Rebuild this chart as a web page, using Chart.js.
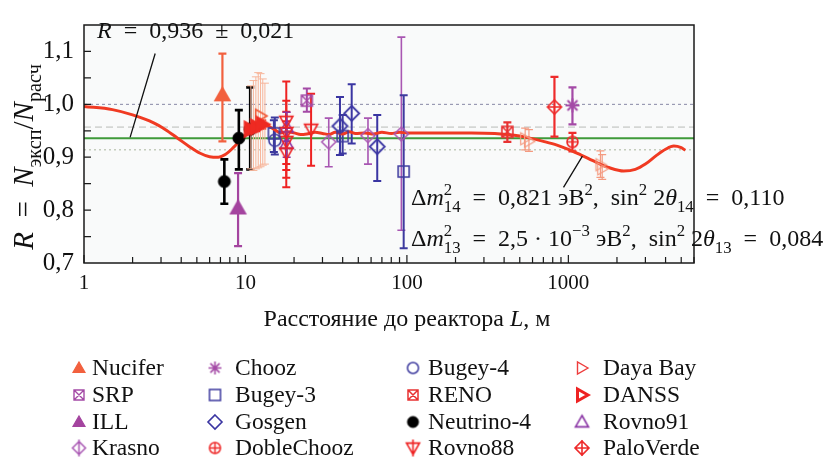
<!DOCTYPE html>
<html>
<head>
<meta charset="utf-8">
<script src="https://cdn.jsdelivr.net/npm/chart.js@4.4.0/dist/chart.umd.min.js"></script>
<style>
html, body { margin: 0; padding: 0; background: #fff; }
</style>
</head>
<body>
<canvas id="graph" width="828" height="457"></canvas>
<script>
// точки: [L, R, нижняя граница, верхняя граница]
const nucifer    = [[7.2, 1.018, 0.930, 1.096]];
const srp        = [[24.0, 1.007, 0.986, 1.030]];
const ill        = [[9.0, 0.804, 0.732, 0.870]];
const krasno     = [[32.8, 0.929, 0.882, 0.974], [57.4, 0.941, 0.887, 0.974], [92.4, 0.944, 0.762, 1.127]];
const chooz      = [[1060, 0.998, 0.962, 1.032]];
const bugey3     = [[15.0, 0.945, 0.910, 0.970], [40.0, 0.940, 0.907, 0.980], [95.5, 0.873, 0.728, 1.017]];
const gosgen     = [[38.5, 0.959, 0.904, 1.014], [45.5, 0.983, 0.926, 1.038], [65.5, 0.920, 0.855, 0.980]];
const dobleChooz = [[1060, 0.929, 0.911, 0.946]];
const bugey4     = [[15.2, 0.932, 0.905, 0.975]];
const reno       = [[419, 0.948, 0.929, 0.966]];
const neutrino4  = [[7.4, 0.854, 0.812, 0.896], [9.1, 0.936, 0.877, 0.989], [10.7, 0.953, 0.877, 1.032]];
const rovno88    = [[17.9, 0.968, 0.887, 1.043], [17.9, 0.947, 0.861, 1.007], [17.9, 0.930, 0.876, 0.986],
                    [17.9, 0.908, 0.843, 0.968], [25.5, 0.953, 0.884, 1.020]];
const dayaBay    = [[540, 0.935, 0.914, 0.955], [570, 0.930, 0.911, 0.952], [1580, 0.886, 0.862, 0.912], [1620, 0.878, 0.858, 0.905]];
const danss      = [[10.7, 0.953, 0.945, 0.961], [11.7, 0.957, 0.949, 0.965], [12.7, 0.962, 0.954, 0.970]];
const rovno91    = [[18.0, 0.957, 0.930, 0.985], [18.0, 0.926, 0.900, 0.955]];
const paloVerde  = [[820, 0.995, 0.939, 1.052]];
// без подписи в легенде
const lightBars  = [[10.8, 0.955, 0.878, 1.035], [11.2, 0.955, 0.875, 1.045], [11.6, 0.960, 0.878, 1.052],
                    [12.0, 0.960, 0.880, 1.060], [12.4, 0.960, 0.882, 1.058], [12.8, 0.960, 0.885, 1.048],
                    [13.2, 0.960, 0.887, 1.040]];
const openTri    = [[12.4, 0.978]];

// кривая осцилляций
const curveL = [1, 1.5, 2, 2.7, 3.2, 3.8, 4.5, 5.2, 6.0, 6.8, 7.5, 8.4, 9.5, 10.5, 11.5, 12.5, 13.5, 15, 16.5, 18,
                20, 22, 24, 27, 30, 33, 36, 40, 44, 48, 55, 62, 70, 80, 90, 100, 150, 250, 350, 450, 560, 700,
                850, 1000, 1200, 1500, 1800, 2200, 2600, 3000, 3500, 4000, 4500, 5000, 5300];
const curveR = [0.996, 0.990, 0.980, 0.965, 0.952, 0.936, 0.920, 0.908, 0.901, 0.900, 0.905, 0.918, 0.935, 0.948,
                0.957, 0.961, 0.960, 0.953, 0.946, 0.948, 0.946, 0.943, 0.944, 0.947, 0.945, 0.943, 0.947, 0.944,
                0.948, 0.945, 0.946, 0.944, 0.947, 0.945, 0.947, 0.946, 0.946, 0.946, 0.945, 0.942, 0.937, 0.930,
                0.923, 0.915, 0.904, 0.890, 0.880, 0.874, 0.877, 0.887, 0.903, 0.915, 0.921, 0.918, 0.913];

const refValues = [1.0, 0.957, 0.936, 0.914];
const xTickValues = [1, 10, 100, 1000];
const xTickLabels = ['1', '10', '100', '1000'];
const yTickValues = [0.7, 0.8, 0.9, 1.0, 1.1];
const yTickLabels = ['0,7', '0,8', '0,9', '1,0', '1,1'];

const SERIF = '"Liberation Serif", "DejaVu Serif", serif';
const fnt = (style, size) => `${style} ${size}px ${SERIF}`;
const SP = '\u2002';

function makeMarker(kind, color, size, lw, bar) {
    const pad = 4;
    const c = document.createElement('canvas');
    c.width = c.height = Math.ceil(size + pad * 2 + (bar ? 8 : 0));
    const g = c.getContext('2d');
    const m = c.width / 2, r = size / 2;
    g.strokeStyle = color;
    g.fillStyle = color;
    g.lineWidth = lw;
    let fill = false;
    g.beginPath();
    if (kind === 'triUpFill' || kind === 'triUp') {
        g.moveTo(m, m - r); g.lineTo(m + r, m + r * 0.75); g.lineTo(m - r, m + r * 0.75); g.closePath();
        fill = kind === 'triUpFill';
    } else if (kind === 'triDown') {
        g.moveTo(m, m + r); g.lineTo(m + r, m - r * 0.75); g.lineTo(m - r, m - r * 0.75); g.closePath();
    } else if (kind === 'triRight' || kind === 'triRightBold' || kind === 'triRightFill') {
        g.moveTo(m + r, m); g.lineTo(m - r * 0.75, m - r); g.lineTo(m - r * 0.75, m + r); g.closePath();
        fill = kind === 'triRightFill';
    } else if (kind === 'circle' || kind === 'circleFill' || kind === 'circlePlus') {
        g.arc(m, m, r, 0, Math.PI * 2);
        fill = kind === 'circleFill';
        if (kind === 'circlePlus') {
            g.moveTo(m - r, m); g.lineTo(m + r, m); g.moveTo(m, m - r); g.lineTo(m, m + r);
        }
    } else if (kind === 'square' || kind === 'squareX') {
        g.rect(m - r, m - r, size, size);
        if (kind === 'squareX') {
            g.moveTo(m - r, m - r); g.lineTo(m + r, m + r); g.moveTo(m + r, m - r); g.lineTo(m - r, m + r);
        }
    } else if (kind === 'diamond' || kind === 'diamondPlus') {
        g.moveTo(m, m - r); g.lineTo(m + r, m); g.lineTo(m, m + r); g.lineTo(m - r, m); g.closePath();
        if (kind === 'diamondPlus') {
            g.moveTo(m - r, m); g.lineTo(m + r, m);
        }
    } else if (kind === 'asterisk') {
        for (let k = 0; k < 4; k++) {
            const a = k * Math.PI / 4;
            g.moveTo(m - r * Math.cos(a), m - r * Math.sin(a));
            g.lineTo(m + r * Math.cos(a), m + r * Math.sin(a));
        }
    }
    if (bar) {
        g.moveTo(m, m - r - bar); g.lineTo(m, m + r + bar);
    }
    if (fill) g.fill();
    g.stroke();
    return c;
}

// название, данные, маркер, цвет, размер, толщина, толщина планок, порядок
const series = [
    ['Nucifer', nucifer, 'triUpFill', '#f2603e', 15, 1.5, 2.2],
    ['SRP', srp, 'squareX', '#a44aa6', 11, 1.5, 2],
    ['ILL', ill, 'triUpFill', '#a4449f', 15, 1.5, 2.2],
    ['Krasno', krasno, 'diamond', '#a856b2', 14, 1.5, 1.6],
    ['Chooz', chooz, 'asterisk', '#a44aa6', 14, 2, 2.2],
    ['Bugey-3', bugey3, 'square', '#3d3a9e', 11, 1.6, 2],
    ['Gosgen', gosgen, 'diamond', '#3a35a2', 15, 1.8, 2],
    ['DobleChooz', dobleChooz, 'circlePlus', '#ee2b2b', 11, 1.6, 2.2],
    ['Bugey-4', bugey4, 'circle', '#3d3a9e', 12, 1.6, 2],
    ['RENO', reno, 'squareX', '#e83232', 11, 1.6, 2.2],
    ['Neutrino-4', neutrino4, 'circleFill', '#000000', 12, 1, 2.6],
    ['Rovno88', rovno88, 'triDown', '#ee2222', 13, 1.6, 2],
    ['Daya Bay', dayaBay, 'triRight', '#f49a80', 12, 1.2, 1.2],
    ['DANSS', danss, 'triRightFill', '#ee2a22', 14, 2.5, 2, -1],
    ['Rovno91', rovno91, 'triUp', '#8a35a5', 13, 1.6, 1.6],
    ['PaloVerde', paloVerde, 'diamondPlus', '#ee2b2b', 14, 1.6, 2.2]
];

const legendMarkers = {
    'Nucifer': makeMarker('triUpFill', '#f2603e', 12, 1.2),
    'SRP': makeMarker('squareX', '#a44aa6', 10, 1.4),
    'ILL': makeMarker('triUpFill', '#a4449f', 12, 1.2),
    'Krasno': makeMarker('diamond', '#a856b2', 13, 1.5, 2),
    'Chooz': makeMarker('asterisk', '#a44aa6', 13, 1.6),
    'Bugey-3': makeMarker('square', '#3d3a9e', 11, 1.5),
    'Gosgen': makeMarker('diamond', '#3a35a2', 14, 1.6),
    'DobleChooz': makeMarker('circlePlus', '#ee2b2b', 11, 1.5),
    'Bugey-4': makeMarker('circle', '#3d3a9e', 11, 1.5),
    'RENO': makeMarker('squareX', '#e83232', 10, 1.5),
    'Neutrino-4': makeMarker('circleFill', '#000000', 11, 1),
    'Rovno88': makeMarker('triDown', '#ee2222', 13, 1.6, 2),
    'Daya Bay': makeMarker('triRight', '#ee3c3c', 12, 1.4),
    'DANSS': makeMarker('triRightBold', '#ee2222', 12, 3),
    'Rovno91': makeMarker('triUp', '#8a35a5', 13, 1.6),
    'PaloVerde': makeMarker('diamondPlus', '#ee2b2b', 14, 1.6, 1)
};
const legendOrder = ['Nucifer', 'SRP', 'ILL', 'Krasno', 'Chooz', 'Bugey-3', 'Gosgen', 'DobleChooz',
                     'Bugey-4', 'RENO', 'Neutrino-4', 'Rovno88', 'Daya Bay', 'DANSS', 'Rovno91', 'PaloVerde'];

function toPoints(arr) {
    return arr.map(p => ({ x: p[0], y: p[1] }));
}

const datasets = series.map(s => ({
    label: s[0],
    data: toPoints(s[1]),
    errs: s[1].map(p => [p[2], p[3]]),
    pointStyle: makeMarker(s[2], s[3], s[4], s[5]),
    pointRadius: 5,
    borderColor: s[3],
    backgroundColor: s[3],
    barWidth: s[6],
    order: s[7] || 0,
    showLine: false
}));
datasets.push({
    label: 'extra', data: toPoints(lightBars), errs: lightBars.map(p => [p[2], p[3]]),
    pointRadius: 0, borderColor: '#f7b59a', barWidth: 1, showLine: false
});
datasets.push({
    label: 'extra2', data: toPoints(openTri),
    pointStyle: makeMarker('triRight', '#f05a38', 13, 1.6), pointRadius: 5, showLine: false
});
datasets.push({
    type: 'line',
    label: 'curve',
    data: curveL.map((v, i) => ({ x: v, y: curveR[i] })),
    borderColor: '#f03a22',
    borderWidth: 3,
    pointRadius: 0,
    cubicInterpolationMode: 'monotone',
    showLine: true,
    fill: false
});

// rich text: [текст, стиль]; стиль: n, i, sup, sub, ss (верх+низ)
function segWidth(ctx, s, F) {
    const small = F * 0.7;
    if (s[1] === 'ss') {
        ctx.font = fnt('', small);
        return Math.max(ctx.measureText(s[0][0]).width, ctx.measureText(s[0][1]).width);
    }
    ctx.font = s[1] === 'i' ? fnt('italic', F) : fnt('', (s[1] === 'sup' || s[1] === 'sub') ? small : F);
    return ctx.measureText(s[0]).width;
}
function drawRich(ctx, segs, x, y, F, align) {
    let w = 0;
    segs.forEach(s => { w += segWidth(ctx, s, F); });
    let cx = align === 'center' ? x - w / 2 : x;
    ctx.textAlign = 'left';
    ctx.textBaseline = 'alphabetic';
    ctx.fillStyle = '#111';
    segs.forEach(s => {
        const sw = segWidth(ctx, s, F);
        if (s[1] === 'ss') {
            ctx.fillText(s[0][0], cx, y - F * 0.42);
            ctx.fillText(s[0][1], cx, y + F * 0.28);
        } else if (s[1] === 'sup') {
            ctx.fillText(s[0], cx, y - F * 0.42);
        } else if (s[1] === 'sub') {
            ctx.fillText(s[0], cx, y + F * 0.28);
        } else {
            ctx.fillText(s[0], cx, y);
        }
        cx += sw;
    });
}

const backdrop = {
    id: 'backdrop',
    beforeDraw(chart) {
        const { ctx, chartArea: a } = chart;
        ctx.save();
        ctx.fillStyle = '#fff';
        ctx.fillRect(0, 0, chart.width, chart.height);
        ctx.fillStyle = '#f9fafa';
        ctx.fillRect(a.left, a.top, a.right - a.left, a.bottom - a.top);
        ctx.restore();
    },
    beforeDatasetsDraw(chart) {
        const { ctx, chartArea: a, scales: { y } } = chart;
        const styles = [
            { color: '#8888a6', width: 1, dash: [3, 3] },
            { color: '#d4d6d4', width: 1.6, dash: [7, 4] },
            { color: '#3f9a3a', width: 2, dash: [] },
            { color: '#c4ccbc', width: 1.4, dash: [2, 3] }
        ];
        ctx.save();
        refValues.forEach((v, i) => {
            const py = y.getPixelForValue(v);
            ctx.strokeStyle = styles[i].color;
            ctx.lineWidth = styles[i].width;
            ctx.setLineDash(styles[i].dash);
            ctx.beginPath();
            ctx.moveTo(a.left, py);
            ctx.lineTo(a.right, py);
            ctx.stroke();
        });
        ctx.restore();
    }
};

const errorBars = {
    id: 'errorBars',
    beforeDatasetsDraw(chart) {
        const { ctx, scales: { x, y } } = chart;
        chart.data.datasets.forEach(ds => {
            if (!ds.errs) return;
            ctx.save();
            ctx.strokeStyle = ds.borderColor;
            ctx.lineWidth = ds.barWidth || 2;
            ds.data.forEach((p, i) => {
                const px = x.getPixelForValue(p.x);
                const y1 = y.getPixelForValue(ds.errs[i][0]);
                const y2 = y.getPixelForValue(ds.errs[i][1]);
                ctx.beginPath();
                ctx.moveTo(px, y1); ctx.lineTo(px, y2);
                ctx.moveTo(px - 4, y1); ctx.lineTo(px + 4, y1);
                ctx.moveTo(px - 4, y2); ctx.lineTo(px + 4, y2);
                ctx.stroke();
            });
            ctx.restore();
        });
    }
};

const decorations = {
    id: 'decorations',
    afterDraw(chart) {
        const { ctx, chartArea: a, scales: { x, y } } = chart;
        ctx.save();
        // рамка
        ctx.strokeStyle = '#1a1a1a';
        ctx.lineWidth = 1.5;
        ctx.strokeRect(a.left, a.top, a.right - a.left, a.bottom - a.top);
        // засечки внутрь
        ctx.lineWidth = 1.2;
        ctx.beginPath();
        for (let d = 1; d <= 1000; d *= 10) {
            for (let k = 1; k <= 9; k++) {
                const v = d * k;
                if (v > x.max) break;
                const px = x.getPixelForValue(v);
                const len = k === 1 ? 8 : 6;
                ctx.moveTo(px, a.bottom);
                ctx.lineTo(px, a.bottom - len);
            }
        }
        for (let v = 0.75; v < 1.149; v += 0.05) {
            const py = y.getPixelForValue(v);
            ctx.moveTo(a.left, py);
            ctx.lineTo(a.left + 7, py);
        }
        ctx.stroke();

        // выноски
        ctx.strokeStyle = '#111';
        ctx.lineWidth = 1.3;
        ctx.beginPath();
        ctx.moveTo(x.getPixelForValue(2.76), y.getPixelForValue(1.096));
        ctx.lineTo(x.getPixelForValue(1.93), y.getPixelForValue(0.9375));
        ctx.moveTo(x.getPixelForValue(933), y.getPixelForValue(0.843));
        ctx.lineTo(x.getPixelForValue(1222), y.getPixelForValue(0.902));
        ctx.stroke();

        drawRich(ctx, [['R', 'i'], [SP + '=' + SP + '0,936' + SP + '±' + SP + '0,021', 'n']], 97, 38, 24);
        drawRich(ctx, [['Δ', 'n'], ['m', 'i'], [['2', '14'], 'ss'], [SP + '=' + SP + '0,821 эВ', 'n'], ['2', 'sup'],
                       [',' + SP + 'sin', 'n'], ['2', 'sup'], [' 2', 'n'], ['θ', 'i'], ['14', 'sub'],
                       [SP + '=' + SP + '0,110', 'n']],
                 411, 205, 24);
        drawRich(ctx, [['Δ', 'n'], ['m', 'i'], [['2', '13'], 'ss'], [SP + '=' + SP + '2,5 · 10', 'n'], ['−3', 'sup'],
                       [' эВ', 'n'], ['2', 'sup'], [',' + SP + 'sin', 'n'], ['2', 'sup'], [' 2', 'n'], ['θ', 'i'],
                       ['13', 'sub'], [SP + '=' + SP + '0,084', 'n']],
                 411, 246, 24);

        // подписи осей
        drawRich(ctx, [['Расстояние до реактора ', 'n'], ['L', 'i'], [', м', 'n']], 407, 326, 24, 'center');
        ctx.save();
        ctx.translate(33, 157);
        ctx.rotate(-Math.PI / 2);
        drawRich(ctx, [['R', 'i'], [SP + '=' + SP, 'n'], ['N', 'i'], ['эксп', 'sub'], ['/', 'n'], ['N', 'i'], ['расч', 'sub']],
                 0, 0, 29, 'center');
        ctx.restore();

        // легенда
        const colX = [79, 215, 413, 582];
        const textX = [92, 235, 428, 603];
        const rowY = [368, 395, 422, 448];
        ctx.font = fnt('', 23.5);
        ctx.fillStyle = '#111';
        ctx.textBaseline = 'middle';
        legendOrder.forEach((name, i) => {
            const col = Math.floor(i / 4), row = i % 4;
            const mk = legendMarkers[name];
            ctx.drawImage(mk, colX[col] - mk.width / 2, rowY[row] - mk.height / 2);
            ctx.textAlign = 'left';
            ctx.fillText(name, textX[col], rowY[row] + 1);
        });
        ctx.restore();
    }
};

new Chart(document.getElementById('graph'), {
    type: 'scatter',
    data: { datasets: datasets },
    options: {
        responsive: false,
        animation: false,
        devicePixelRatio: 1,
        layout: { padding: { top: 13, right: 134, left: 0, bottom: 0 } },
        plugins: { legend: { display: false }, tooltip: { enabled: false } },
        scales: {
            x: {
                type: 'logarithmic',
                min: 1,
                max: 6000,
                grid: { display: false, drawTicks: false },
                border: { display: false },
                afterFit: s => { s.height = 194; },
                afterBuildTicks: s => { s.ticks = xTickValues.map(v => ({ value: v })); },
                ticks: {
                    autoSkip: false,
                    maxRotation: 0,
                    padding: 8,
                    color: '#111',
                    font: { family: SERIF, size: 21 },
                    callback: v => xTickLabels[xTickValues.indexOf(v)]
                }
            },
            y: {
                type: 'linear',
                min: 0.7,
                max: 1.15,
                grid: { display: false, drawTicks: false },
                border: { display: false },
                afterFit: s => { s.width = 84; },
                afterBuildTicks: s => { s.ticks = yTickValues.map(v => ({ value: v })); },
                ticks: {
                    padding: 10,
                    color: '#111',
                    font: { family: SERIF, size: 25 },
                    callback: v => yTickLabels[yTickValues.findIndex(t => Math.abs(t - v) < 1e-6)]
                }
            }
        }
    },
    plugins: [backdrop, errorBars, decorations]
});
</script>
</body>
</html>
